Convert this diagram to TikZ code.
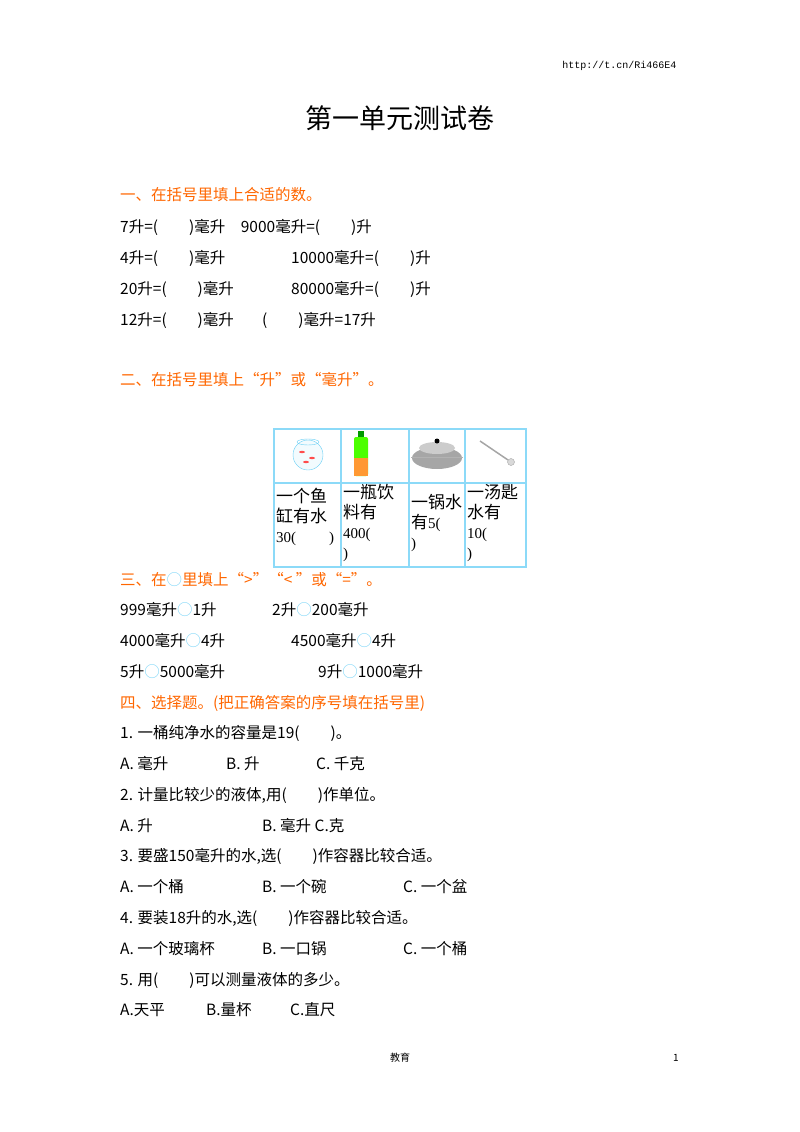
\documentclass[tikz,border=0pt]{standalone}
\usepackage{fontspec}
\setmainfont{Noto Sans CJK SC}
\newfontfamily\numf{Liberation Serif}
\newfontfamily\urlf{Liberation Mono}
\usetikzlibrary{calc}
\tikzstyle{line} = [anchor=west, font=\fontsize{15.5}{18}\selectfont, inner sep=0pt]
\tikzstyle{head} = [anchor=west, font=\fontsize{15.5}{18}\selectfont, text=orange!80!red, inner sep=0pt]
\tikzstyle{cell} = [anchor=north west, font=\fontsize{17}{20}\selectfont, inner sep=0pt, align=left]
\tikzstyle{grid} = [draw=cyan!45, line width=1.2pt]
\newcommand{\cir}{\textcolor{cyan!50}{○}}
\begin{document}
\begin{tikzpicture}[x=1pt,y=-1pt]
\useasboundingbox (0,0) rectangle (800,1132);
\node (url) [anchor=east, font=\urlf\fontsize{10}{12}\selectfont] at (680,66) {http://t.cn/Ri466E4};
\node (title) [font=\fontsize{27}{30}\selectfont] at (400,118) {第一单元测试卷};
% part one
\node (h1) [head] at (120,195) {一、在括号里填上合适的数。};
\node (a1) [line] at (120,227) {7升=(\hspace{2em})毫升\hspace{1em}9000毫升=(\hspace{2em})升};
\node (a2) [line] at (120,258) {4升=(\hspace{2em})毫升};
\node (b2) [line] at (291,258) {10000毫升=(\hspace{2em})升};
\node (a3) [line] at (120,289) {20升=(\hspace{2em})毫升};
\node (b3) [line] at (291,289) {80000毫升=(\hspace{2em})升};
\node (a4) [line] at (120,320) {12升=(\hspace{2em})毫升};
\node (b4) [line] at (262,320) {(\hspace{2em})毫升=17升};
% part two
\node (h2) [head] at (120,380) {二、在括号里填上“升”或“毫升”。};
\draw [grid] (274,429) rectangle (526,567);
\draw [grid] (274,483) -- (526,483);
\foreach \x in {341,409,465} \draw [grid] (\x,429) -- (\x,567);
% pictures
\draw [cyan!60, fill=cyan!5] (308,455) circle (15);
\draw [cyan!60] (308,442) ellipse (11 and 3);
\fill [red!70] (302,452) ellipse (3 and 1.2) (312,458) ellipse (3 and 1.2) (306,462) ellipse (3 and 1.2);
\fill [green!60!black] (358,431) rectangle (364,437);
\fill [green!70!yellow, rounded corners=2pt] (354,437) rectangle (368,476);
\fill [orange!80] (354,458) rectangle (368,476);
\fill [gray!70] (437,458) ellipse (25 and 11);
\fill [gray!40] (437,448) ellipse (18 and 6);
\fill [black] (437,441) circle (2.5);
\draw [gray!60] (411,457) -- (463,457);
\draw [gray!70, line width=1.5pt] (480,441) -- (508,460);
\draw [gray!70, fill=gray!30] (511,462) circle (3.5);
\node (c1) [cell] at (276,488) {一个鱼\\缸有水\\{\numf\fontsize{15}{18}\selectfont 30(\hspace{2.2em})}};
\node (c2) [cell] at (343,484) {一瓶饮\\料有\\{\numf\fontsize{15}{18}\selectfont 400(}\\{\numf\fontsize{15}{18}\selectfont )}};
\node (c3) [cell] at (411,494) {一锅水\\有{\numf\fontsize{15}{18}\selectfont 5(}\\{\numf\fontsize{15}{18}\selectfont )}};
\node (c4) [cell] at (467,484) {一汤匙\\水有\\{\numf\fontsize{15}{18}\selectfont 10(}\\{\numf\fontsize{15}{18}\selectfont )}};
% part three
\node (h3) [head] at (120,580) {三、在\cir 里填上“>”“< ”或“=”。};
\node (d1) [line] at (120,610) {999毫升\cir 1升};
\node (e1) [line] at (272,610) {2升\cir 200毫升};
\node (d2) [line] at (120,641) {4000毫升\cir 4升};
\node (e2) [line] at (291,641) {4500毫升\cir 4升};
\node (d3) [line] at (120,672) {5升\cir 5000毫升};
\node (e3) [line] at (318,672) {9升\cir 1000毫升};
% part four
\node (h4) [head] at (120,703) {四、选择题。(把正确答案的序号填在括号里)};
\node (q1) [line] at (120,733) {1. 一桶纯净水的容量是19(\hspace{2em})。};
\node (q1a) [line] at (120,764) {A. 毫升};
\node (q1b) [line] at (226,764) {B. 升};
\node (q1c) [line] at (316,764) {C. 千克};
\node (q2) [line] at (120,795) {2. 计量比较少的液体,用(\hspace{2em})作单位。};
\node (q2a) [line] at (120,826) {A. 升};
\node (q2b) [line] at (262,826) {B. 毫升 C.克};
\node (q3) [line] at (120,856) {3. 要盛150毫升的水,选(\hspace{2em})作容器比较合适。};
\node (q3a) [line] at (120,887) {A. 一个桶};
\node (q3b) [line] at (262,887) {B. 一个碗};
\node (q3c) [line] at (403,887) {C. 一个盆};
\node (q4) [line] at (120,918) {4. 要装18升的水,选(\hspace{2em})作容器比较合适。};
\node (q4a) [line] at (120,949) {A. 一个玻璃杯};
\node (q4b) [line] at (262,949) {B. 一口锅};
\node (q4c) [line] at (403,949) {C. 一个桶};
\node (q5) [line] at (120,980) {5. 用(\hspace{2em})可以测量液体的多少。};
\node (q5a) [line] at (120,1010) {A.天平};
\node (q5b) [line] at (206,1010) {B.量杯};
\node (q5c) [line] at (290,1010) {C.直尺};
% footer
\node (foot) [font=\fontsize{10}{12}\selectfont] at (400,1058) {教育};
\node (page) [font=\fontsize{10}{12}\selectfont] at (676,1058) {1};
\end{tikzpicture}
\end{document}
